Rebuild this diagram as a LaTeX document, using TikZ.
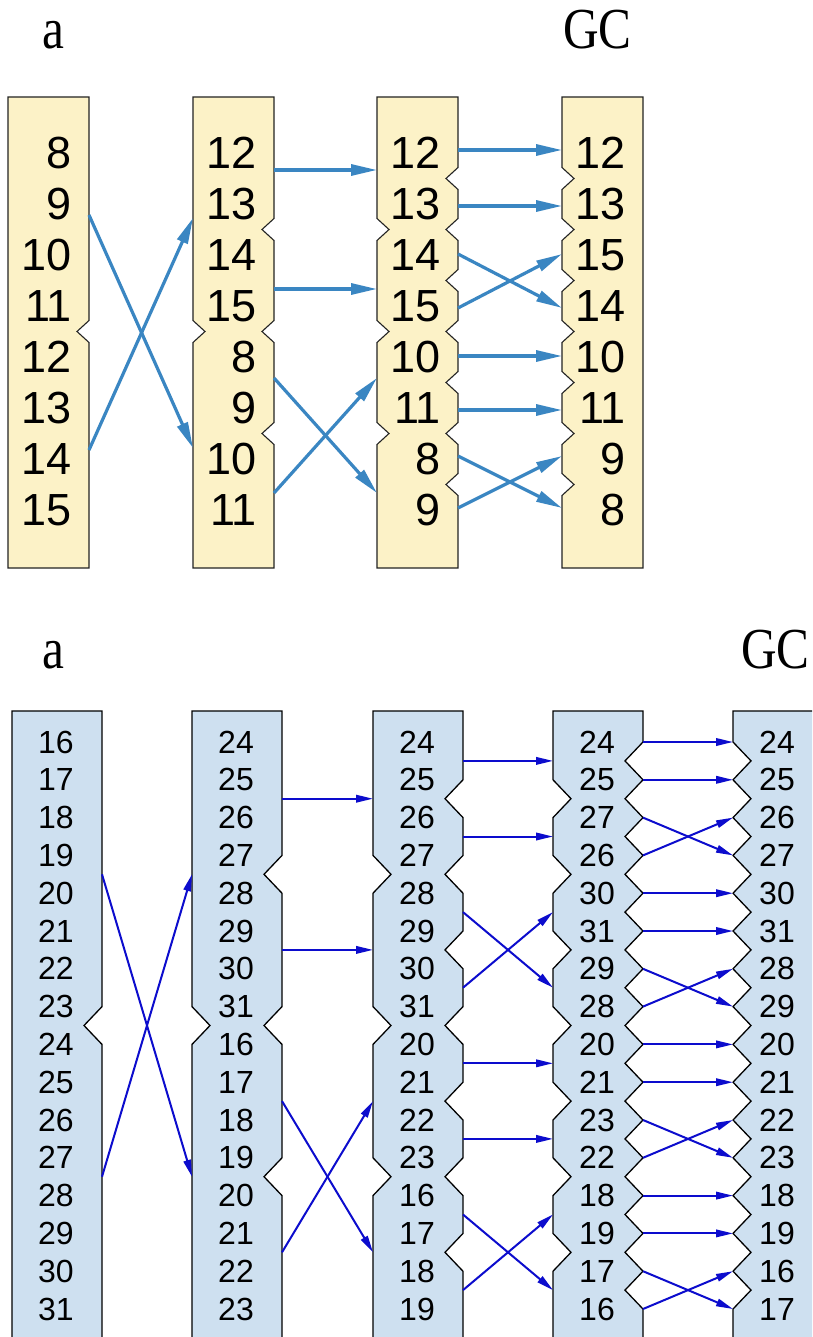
\documentclass[tikz,border=0pt]{standalone}
\usepackage{fontspec}
\setmainfont{Liberation Sans}
\newfontfamily\hdrfont{Liberation Serif}
\usetikzlibrary{arrows.meta}
\definecolor{tfill}{RGB}{252,242,199}
\definecolor{bfill}{RGB}{206,224,240}
\definecolor{tblue}{RGB}{58,134,194}
\definecolor{bblue}{RGB}{12,12,205}
\definecolor{edgec}{RGB}{35,35,35}
\tikzset{
  tcol/.style={fill=tfill,draw=edgec,line width=1.1pt,line join=miter},
  bcol/.style={fill=bfill,draw=black,line width=1.3pt,line join=miter},
  tlab/.style={anchor=east,inner sep=0pt,font=\fontsize{45}{45}\selectfont},
  blab/.style={anchor=east,inner sep=0pt,font=\fontsize{32}{32}\selectfont},
  hdr/.style={inner sep=0pt,font=\hdrfont\fontsize{58}{60}\selectfont},
  tarr/.style={draw=tblue,line width=3.2pt,-{Triangle[length=26pt,width=11pt]},fill=tblue},
  barr/.style={draw=bblue,line width=2pt,-{Triangle[length=17pt,width=7.5pt]},fill=bblue},
}
\begin{document}
\begin{tikzpicture}[x=1pt,y=-1pt]
\clip (0,0) rectangle (812,1337);
\fill[white] (0,0) rectangle (812,1337);

% ---------- headers ----------
\node[hdr,anchor=base] (ta) at (53,49) {\scalebox{0.85}[1]{a}};
\node[hdr,anchor=base west] (tgc) at (563,49) {\scalebox{0.85}[1]{GC}};
\node[hdr,anchor=base] (ba) at (53,668) {\scalebox{0.85}[1]{a}};
\node[hdr,anchor=base west] (bgc) at (741,668) {\scalebox{0.85}[1]{GC}};

% ---------- top columns (y0=153, s=51, h=11, d=12) ----------
\path[tcol] (8,97) -- (89,97)
  \foreach \r in {3.5}{ -- (89,{153+51*\r-11}) -- (77,{153+51*\r}) -- (89,{153+51*\r+11}) }
  -- (89,568) -- (8,568) -- cycle;
\path[tcol] (193,97) -- (274,97)
  \foreach \r in {1.5,3.5,5.5}{ -- (274,{153+51*\r-11}) -- (262,{153+51*\r}) -- (274,{153+51*\r+11}) }
  -- (274,568) -- (193,568)
  \foreach \r in {3.5}{ -- (193,{153+51*\r+11}) -- (205,{153+51*\r}) -- (193,{153+51*\r-11}) }
  -- cycle;
\path[tcol] (377,97) -- (458,97)
  \foreach \r in {0.5,1.5,...,6.5}{ -- (458,{153+51*\r-11}) -- (446,{153+51*\r}) -- (458,{153+51*\r+11}) }
  -- (458,568) -- (377,568)
  \foreach \r in {5.5,3.5,1.5}{ -- (377,{153+51*\r+11}) -- (389,{153+51*\r}) -- (377,{153+51*\r-11}) }
  -- cycle;
\path[tcol] (562,97) -- (643,97) -- (643,568) -- (562,568)
  \foreach \r in {6.5,5.5,...,0.5}{ -- (562,{153+51*\r+11}) -- (574,{153+51*\r}) -- (562,{153+51*\r-11}) }
  -- cycle;

% ---------- top labels ----------
\foreach \v [count=\i from 0] in {8,9,10,11,12,13,14,15}
  \node[tlab] (t1r\i) at (72,{153+51*\i}) {\v};
\foreach \v [count=\i from 0] in {12,13,14,15,8,9,10,11}
  \node[tlab] (t2r\i) at (257,{153+51*\i}) {\v};
\foreach \v [count=\i from 0] in {12,13,14,15,10,11,8,9}
  \node[tlab] (t3r\i) at (441,{153+51*\i}) {\v};
\foreach \v [count=\i from 0] in {12,13,15,14,10,11,9,8}
  \node[tlab] (t4r\i) at (626,{153+51*\i}) {\v};

% ---------- top connector ends ----------
\coordinate (t1oa) at (89,215);  \coordinate (t2ia) at (193,448);
\coordinate (t1ob) at (89,450);  \coordinate (t2ib) at (193,218);
\coordinate (t2oa) at (274,170); \coordinate (t3ia) at (377,170);
\coordinate (t2ob) at (274,289); \coordinate (t3ib) at (377,289);
\coordinate (t2oc) at (274,378); \coordinate (t3ic) at (377,493);
\coordinate (t2od) at (274,493); \coordinate (t3id) at (377,378);
\foreach \a/\b [count=\k] in {150/150,206/206,254/308,308/254,356/356,410/410,456/508,508/456}{
  \coordinate (t3o\k) at (458,\a);
  \coordinate (t4i\k) at (562,\b);
}
\draw[tarr] (t1oa) -- (t2ia);
\draw[tarr] (t1ob) -- (t2ib);
\draw[tarr] (t2oa) -- (t3ia);
\draw[tarr] (t2ob) -- (t3ib);
\draw[tarr] (t2oc) -- (t3ic);
\draw[tarr] (t2od) -- (t3id);
\foreach \k in {1,...,8} \draw[tarr] (t3o\k) -- (t4i\k);

% ---------- bottom columns (y0=742, s=37.8, h=18.9, d=18) ----------
\path[bcol] (12,711) -- (102,711)
  \foreach \r in {7.5}{ -- (102,{742+37.8*\r-18.9}) -- (84,{742+37.8*\r}) -- (102,{742+37.8*\r+18.9}) }
  -- (102,1360) -- (12,1360) -- cycle;
\path[bcol] (192,711) -- (282,711)
  \foreach \r in {3.5,7.5,11.5}{ -- (282,{742+37.8*\r-18.9}) -- (264,{742+37.8*\r}) -- (282,{742+37.8*\r+18.9}) }
  -- (282,1360) -- (192,1360)
  \foreach \r in {7.5}{ -- (192,{742+37.8*\r+18.9}) -- (210,{742+37.8*\r}) -- (192,{742+37.8*\r-18.9}) }
  -- cycle;
\path[bcol] (373,711) -- (463,711)
  \foreach \r in {1.5,3.5,...,13.5}{ -- (463,{742+37.8*\r-18.9}) -- (445,{742+37.8*\r}) -- (463,{742+37.8*\r+18.9}) }
  -- (463,1360) -- (373,1360)
  \foreach \r in {11.5,7.5,3.5}{ -- (373,{742+37.8*\r+18.9}) -- (391,{742+37.8*\r}) -- (373,{742+37.8*\r-18.9}) }
  -- cycle;
\path[bcol] (553,711) -- (643,711)
  \foreach \r in {0.5,1.5,...,14.5}{ -- (643,{742+37.8*\r-18.9}) -- (625,{742+37.8*\r}) -- (643,{742+37.8*\r+18.9}) }
  -- (643,1360) -- (553,1360)
  \foreach \r in {13.5,11.5,...,1.5}{ -- (553,{742+37.8*\r+18.9}) -- (571,{742+37.8*\r}) -- (553,{742+37.8*\r-18.9}) }
  -- cycle;
\path[bcol] (733,711) -- (823,711) -- (823,1360) -- (733,1360)
  \foreach \r in {14.5,13.5,...,0.5}{ -- (733,{742+37.8*\r+18.9}) -- (751,{742+37.8*\r}) -- (733,{742+37.8*\r-18.9}) }
  -- cycle;

% ---------- bottom labels ----------
\foreach \v [count=\i from 0] in {16,17,18,19,20,21,22,23,24,25,26,27,28,29,30,31}
  \node[blab] (b1r\i) at (74,{742+37.8*\i}) {\v};
\foreach \v [count=\i from 0] in {24,25,26,27,28,29,30,31,16,17,18,19,20,21,22,23}
  \node[blab] (b2r\i) at (254,{742+37.8*\i}) {\v};
\foreach \v [count=\i from 0] in {24,25,26,27,28,29,30,31,20,21,22,23,16,17,18,19}
  \node[blab] (b3r\i) at (435,{742+37.8*\i}) {\v};
\foreach \v [count=\i from 0] in {24,25,27,26,30,31,29,28,20,21,23,22,18,19,17,16}
  \node[blab] (b4r\i) at (615,{742+37.8*\i}) {\v};
\foreach \v [count=\i from 0] in {24,25,26,27,30,31,28,29,20,21,22,23,18,19,16,17}
  \node[blab] (b5r\i) at (795,{742+37.8*\i}) {\v};

% ---------- bottom connector ends (index j = 2*row) ----------
\foreach \j in {0,...,30}{
  \coordinate (b1R\j) at (102,{742+18.9*\j});
  \coordinate (b2L\j) at (192,{742+18.9*\j});
  \coordinate (b2R\j) at (282,{742+18.9*\j});
  \coordinate (b3L\j) at (373,{742+18.9*\j});
  \coordinate (b3R\j) at (463,{742+18.9*\j});
  \coordinate (b4L\j) at (553,{742+18.9*\j});
  \coordinate (b4R\j) at (643,{742+18.9*\j});
  \coordinate (b5L\j) at (733,{742+18.9*\j});
}
\foreach \a/\b in {7/23,23/7} \draw[barr] (b1R\a) -- (b2L\b);
\foreach \a/\b in {3/3,11/11,19/27,27/19} \draw[barr] (b2R\a) -- (b3L\b);
\foreach \a/\b in {1/1,5/5,9/13,13/9,17/17,21/21,25/29,29/25} \draw[barr] (b3R\a) -- (b4L\b);
\foreach \a/\b in {0/0,2/2,4/6,6/4,8/8,10/10,12/14,14/12,16/16,18/18,20/22,22/20,24/24,26/26,28/30,30/28}
  \draw[barr] (b4R\a) -- (b5L\b);
\end{tikzpicture}
\end{document}
